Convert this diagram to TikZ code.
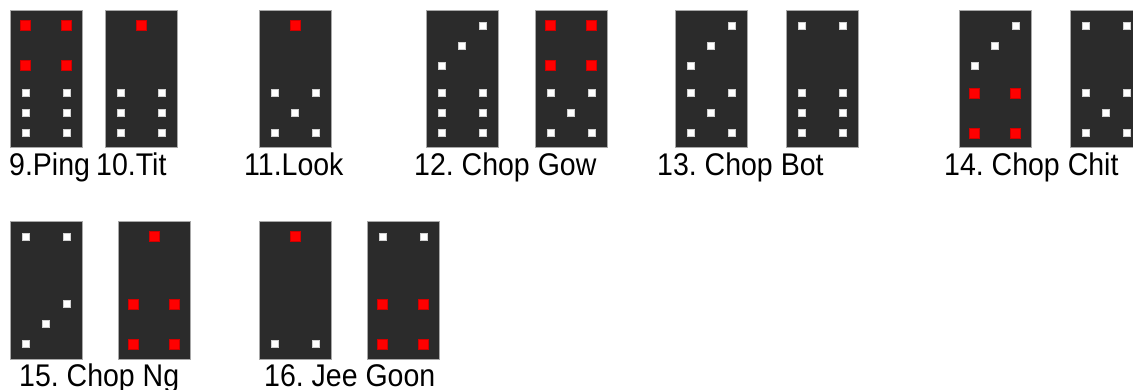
\documentclass[tikz,border=0pt]{standalone}
\usepackage{fontspec}
\setmainfont{Liberation Sans}
\usetikzlibrary{calc}
\definecolor{tilefill}{HTML}{2B2B2B}
\definecolor{tileedge}{HTML}{A8A8A8}
\definecolor{pipred}{HTML}{FF0000}
\definecolor{pipredge}{HTML}{D00000}
\definecolor{pipwedge}{HTML}{D0D0D0}
\newcommand\lbltext[1]{\scalebox{1}[1.1]{#1}}
\frenchspacing
\begin{document}
\begin{tikzpicture}[x=1pt,y=-1pt,
  tilebox/.style={draw=tileedge, line width=1pt, fill=tilefill, minimum width=72pt, minimum height=137pt, anchor=north west, inner sep=0pt, outer sep=0pt},
  wpip/.style={draw=pipwedge, line width=0.4pt, fill=white, minimum size=7pt, inner sep=0pt},
  rpip/.style={draw=pipredge, line width=0.4pt, fill=pipred, minimum size=10pt, inner sep=0pt},
  lbl/.style={anchor=base west, inner sep=0pt, font=\fontsize{28.5}{30}\selectfont\frenchspacing}]
\clip (0,0) rectangle (1133,390);
\fill[white] (0,0) rectangle (1133,390);
% tiles row 1
\node[tilebox] (t1) at (10,11) {};
\node[tilebox] (t2) at (105,11) {};
\node[tilebox] (t3) at (259,11) {};
\node[tilebox] (t4) at (426,11) {};
\node[tilebox] (t5) at (535,11) {};
\node[tilebox] (t6) at (675,11) {};
\node[tilebox] (t7) at (786,11) {};
\node[tilebox] (t8) at (959,11) {};
\node[tilebox] (t9) at (1070,11) {};
% tiles row 2
\node[tilebox] (t10) at (10,222) {};
\node[tilebox] (t11) at (118,222) {};
\node[tilebox] (t12) at (259,222) {};
\node[tilebox] (t13) at (367,222) {};
% pip helpers
\newcommand\redfourtop[1]{\foreach \px/\py in {15.5/14.5,56.5/14.5,15.5/54.5,56.5/54.5} \node[rpip] at ($(#1.north west)+(\px,\py)$) {};}
\newcommand\redonetop[1]{\node[rpip] at ($(#1.north west)+(36,14.5)$) {};}
\newcommand\whitethreetop[1]{\foreach \px/\py in {56.5/14.5,36/34.5,15.5/54.5} \node[wpip] at ($(#1.north west)+(\px,\py)$) {};}
\newcommand\whitetwotop[1]{\foreach \px/\py in {15.5/14.5,56.5/14.5} \node[wpip] at ($(#1.north west)+(\px,\py)$) {};}
\newcommand\whitesixbot[1]{\foreach \px/\py in {15.5/82,56.5/82,15.5/102,56.5/102,15.5/122,56.5/122} \node[wpip] at ($(#1.north west)+(\px,\py)$) {};}
\newcommand\whitefivebot[1]{\foreach \px/\py in {15.5/82,56.5/82,36/102,15.5/122,56.5/122} \node[wpip] at ($(#1.north west)+(\px,\py)$) {};}
\newcommand\whitethreebot[1]{\foreach \px/\py in {56.5/82,36/102,15.5/122} \node[wpip] at ($(#1.north west)+(\px,\py)$) {};}
\newcommand\whitetwobot[1]{\foreach \px/\py in {15.5/122,56.5/122} \node[wpip] at ($(#1.north west)+(\px,\py)$) {};}
\newcommand\redfourbot[1]{\foreach \px/\py in {15.5/82,56.5/82,15.5/122,56.5/122} \node[rpip] at ($(#1.north west)+(\px,\py)$) {};}
% pips
\redfourtop{t1}\whitesixbot{t1}
\redonetop{t2}\whitesixbot{t2}
\redonetop{t3}\whitefivebot{t3}
\whitethreetop{t4}\whitesixbot{t4}
\redfourtop{t5}\whitefivebot{t5}
\whitethreetop{t6}\whitefivebot{t6}
\whitetwotop{t7}\whitesixbot{t7}
\whitethreetop{t8}\redfourbot{t8}
\whitetwotop{t9}\whitefivebot{t9}
\whitetwotop{t10}\whitethreebot{t10}
\redonetop{t11}\redfourbot{t11}
\redonetop{t12}\whitetwobot{t12}
\whitetwotop{t13}\redfourbot{t13}
% labels
\node[lbl] (l9) at (9,176) {\lbltext{9.Ping}};
\node[lbl] (l10) at (96,176) {\lbltext{10.Tit}};
\node[lbl] (l11) at (244,176) {\lbltext{11.Look}};
\node[lbl] (l12) at (414,176) {\lbltext{12. Chop Gow}};
\node[lbl] (l13) at (657,176) {\lbltext{13. Chop Bot}};
\node[lbl] (l14) at (944,176) {\lbltext{14. Chop Chit}};
\node[lbl] (l15) at (19,386.5) {\lbltext{15. Chop Ng}};
\node[lbl] (l16) at (264,386.5) {\lbltext{16. Jee Goon}};
\end{tikzpicture}
\end{document}
